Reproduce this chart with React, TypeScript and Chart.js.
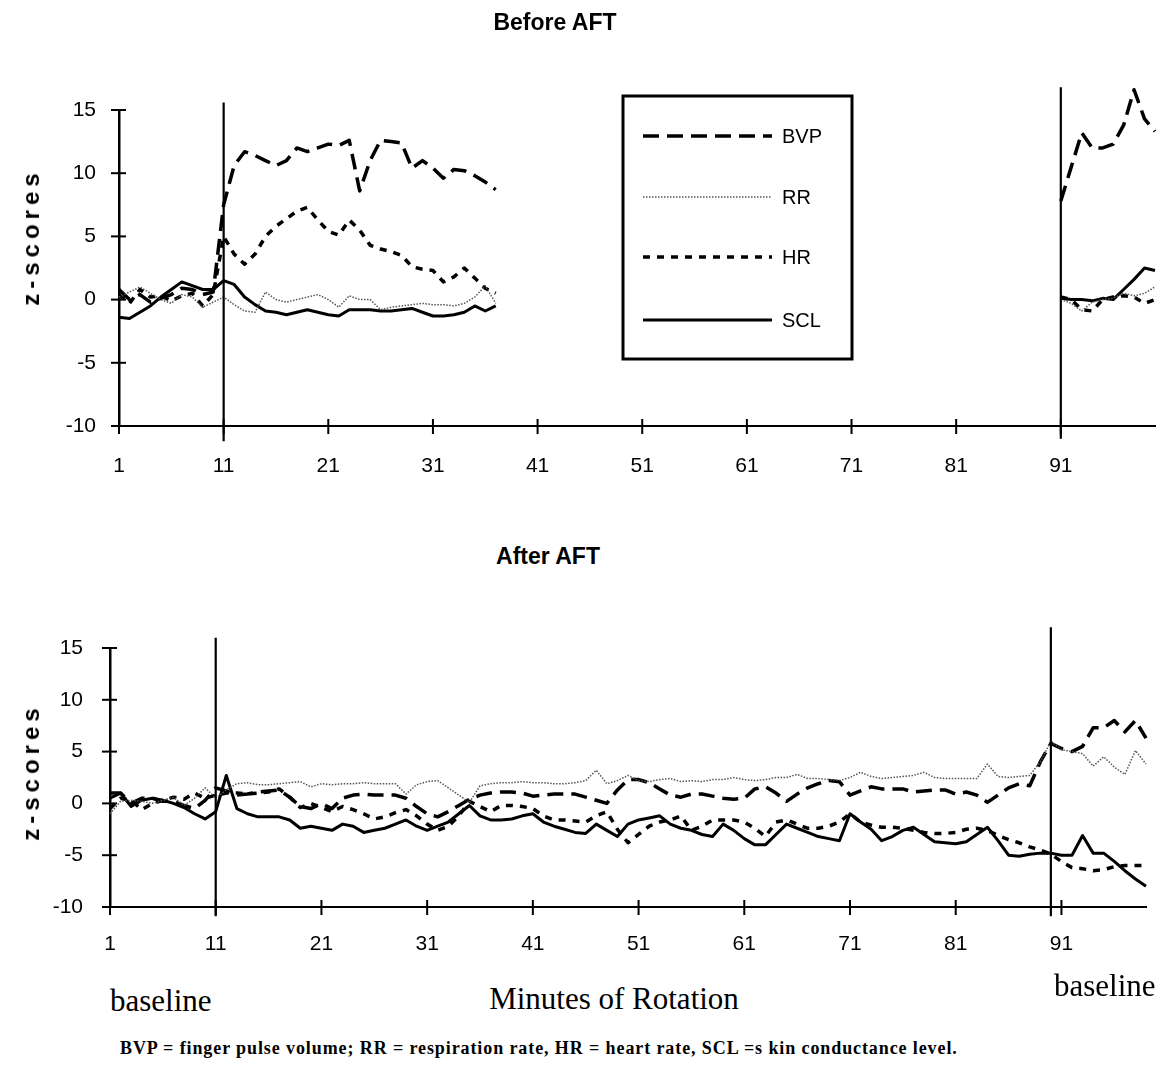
import React, { useEffect, useRef } from 'react';
import { Chart, registerables } from 'chart.js';

Chart.register(...registerables);

const X_TICKS = [1, 11, 21, 31, 41, 51, 61, 71, 81, 91];
const Y_TICKS = [-10, -5, 0, 5, 10, 15];
const SERIES_NAMES = ['BVP', 'RR', 'HR', 'SCL'];

// ---------- Before AFT (minutes 1–37 and 91–100) ----------
const BEFORE_START_A = 1;
const BEFORE_START_B = 91;
const BEFORE_BVP_A = [0.8, 0.0, 0.4, -0.2, 0.1, 0.4, 0.9, 0.8, 0.4, 0.6, 7.5, 10.6, 11.7, 11.4, 11.0, 10.6, 11.0, 12.0, 11.7, 12.0, 12.3, 12.2, 12.6, 8.6, 11.0, 12.6, 12.5, 12.4, 10.4, 11.0, 10.4, 9.6, 10.3, 10.2, 9.8, 9.3, 8.7];
const BEFORE_RR_A = [0.2, 0.6, 1.0, 0.5, 0.0, -0.3, 0.4, 0.2, -0.6, -0.2, 0.2, -0.4, -0.9, -1.0, 0.6, 0.0, -0.2, 0.0, 0.2, 0.4, 0.0, -0.6, 0.3, 0.0, 0.0, -0.8, -0.6, -0.5, -0.4, -0.3, -0.4, -0.4, -0.5, -0.3, 0.2, 1.1, -0.3];
const BEFORE_HR_A = [0.4, -0.3, 0.8, 0.2, 0.3, -0.1, 0.3, 0.5, -0.5, 0.4, 5.0, 3.6, 2.8, 3.6, 5.0, 5.8, 6.4, 7.0, 7.3, 6.3, 5.4, 5.1, 6.3, 5.5, 4.3, 4.0, 3.8, 3.5, 2.6, 2.4, 2.3, 1.4, 1.8, 2.5, 1.7, 0.9, 0.5];
const BEFORE_SCL_A = [-1.4, -1.5, -1.0, -0.5, 0.2, 0.8, 1.4, 1.1, 0.8, 0.8, 1.5, 1.2, 0.2, -0.4, -0.9, -1.0, -1.2, -1.0, -0.8, -1.0, -1.2, -1.3, -0.8, -0.8, -0.8, -0.9, -0.9, -0.8, -0.7, -1.0, -1.3, -1.3, -1.2, -1.0, -0.5, -0.9, -0.5];
const BEFORE_BVP_B = [7.8, 10.5, 13.2, 12.0, 12.0, 12.3, 13.8, 16.6, 14.3, 13.3];
const BEFORE_RR_B = [0.0, -0.3, -0.9, -0.2, 0.0, 0.1, 0.5, 0.3, 0.5, 1.0];
const BEFORE_HR_B = [0.2, 0.0, -0.8, -0.9, 0.0, 0.2, 0.3, 0.2, -0.3, 0.0];
const BEFORE_SCL_B = [0.1, 0.0, 0.0, -0.1, 0.1, 0.0, 0.8, 1.6, 2.5, 2.3];
const BEFORE_MARKERS = [11, 91];
const BEFORE_MARKER_SPAN = [[-11.2, 15.6], [-11.0, 16.8]];

// ---------- After AFT (minutes 1–99) ----------
const AFTER_BVP = [1.0, 1.0, 0.0, 0.5, 0.5, 0.2, 0.2, -0.2, -0.5, 0.3, 1.5, 1.2, 0.8, 0.9, 1.1, 1.2, 1.3, 0.6, -0.3, -0.5, 0.0, -0.5, 0.5, 0.8, 0.9, 0.8, 0.8, 0.8, 0.5, -0.3, -1.0, -1.3, -0.8, -0.2, 0.4, 0.8, 1.0, 1.1, 1.1, 1.0, 0.7, 0.8, 0.9, 0.9, 0.9, 0.6, 0.3, 0.0, 1.3, 2.3, 2.3, 2.0, 1.4, 0.8, 0.6, 0.9, 0.9, 0.7, 0.5, 0.4, 0.5, 1.4, 1.6, 1.0, 0.2, 0.9, 1.5, 1.9, 2.2, 2.1, 0.8, 1.2, 1.6, 1.4, 1.4, 1.4, 1.1, 1.2, 1.3, 1.3, 0.9, 1.1, 0.8, 0.1, 0.8, 1.5, 1.9, 1.7, 4.0, 5.8, 5.3, 5.0, 5.5, 7.3, 7.3, 8.0, 6.9, 8.0, 6.3];
const AFTER_RR = [-1.0, 0.2, 0.3, 0.2, 0.0, 0.3, 0.6, -0.2, 0.5, 1.5, 0.5, 1.3, 1.9, 2.0, 1.8, 1.8, 1.9, 2.0, 2.1, 1.6, 1.9, 1.8, 1.9, 1.9, 2.0, 1.9, 1.9, 1.9, 0.9, 1.8, 2.1, 2.2, 1.5, 0.8, 0.1, 1.7, 1.9, 2.0, 2.0, 2.1, 2.0, 2.0, 1.9, 1.9, 2.0, 2.2, 3.2, 1.9, 2.2, 2.7, 2.2, 2.1, 2.3, 2.4, 2.1, 2.2, 2.1, 2.3, 2.3, 2.5, 2.3, 2.2, 2.3, 2.5, 2.5, 2.8, 2.4, 2.4, 2.3, 2.2, 2.5, 3.0, 2.6, 2.4, 2.5, 2.6, 2.7, 3.0, 2.5, 2.4, 2.4, 2.4, 2.4, 3.8, 2.6, 2.5, 2.6, 2.7, 4.0, 6.0, 5.2, 5.0, 4.8, 3.6, 4.5, 3.5, 2.8, 5.1, 3.8];
const AFTER_HR = [-0.5, 0.5, 0.3, -0.6, 0.0, 0.3, 0.6, 0.4, 1.0, 0.5, 0.8, 1.0, 1.0, 0.9, 1.0, 1.1, 1.4, 0.6, -0.4, 0.0, -0.4, -0.8, -0.3, -0.6, -1.0, -1.5, -1.3, -0.9, -0.6, -1.2, -2.0, -2.6, -2.2, -1.2, 0.2, -0.3, -0.8, -0.2, -0.2, -0.3, -0.5, -1.2, -1.6, -1.6, -1.7, -1.8, -1.2, -0.8, -2.5, -3.8, -3.0, -2.2, -1.8, -1.6, -1.2, -2.6, -2.2, -1.6, -1.6, -1.6, -1.8, -2.4, -3.2, -1.8, -1.6, -2.0, -2.4, -2.4, -2.2, -1.8, -1.0, -1.8, -2.1, -2.3, -2.3, -2.4, -2.6, -2.8, -2.9, -2.9, -2.8, -2.5, -2.4, -2.6, -3.1, -3.5, -3.8, -4.2, -4.5, -4.9, -5.6, -6.2, -6.3, -6.5, -6.4, -6.1, -6.0, -6.0, -6.0];
const AFTER_SCL = [0.5, 1.0, -0.3, 0.3, 0.5, 0.3, 0.0, -0.4, -1.0, -1.5, -0.8, 2.7, -0.5, -1.0, -1.3, -1.3, -1.3, -1.6, -2.4, -2.2, -2.4, -2.6, -2.0, -2.2, -2.8, -2.6, -2.4, -2.0, -1.6, -2.2, -2.6, -2.2, -1.8, -1.0, -0.2, -1.2, -1.6, -1.6, -1.5, -1.2, -1.0, -1.8, -2.2, -2.5, -2.8, -2.9, -2.0, -2.6, -3.2, -2.0, -1.6, -1.4, -1.2, -2.0, -2.4, -2.6, -3.0, -3.2, -2.0, -2.6, -3.4, -4.0, -4.0, -3.0, -2.0, -2.4, -2.8, -3.2, -3.4, -3.6, -1.0, -1.8, -2.5, -3.6, -3.2, -2.6, -2.3, -3.0, -3.7, -3.8, -3.9, -3.7, -3.0, -2.3, -3.6, -5.0, -5.1, -4.9, -4.8, -4.8, -5.0, -5.0, -3.1, -4.8, -4.8, -5.6, -6.5, -7.3, -8.0];
const AFTER_MARKERS = [11, 90];
const AFTER_MARKER_SPAN = [[-10.9, 16.0], [-10.9, 17.0]];

const SANS = '"Liberation Sans", Arial, Helvetica, sans-serif';
const SERIF = '"Liberation Serif", "Times New Roman", serif';

const STYLES: Record<string, any> = {
  BVP: { borderColor: '#000', borderWidth: 3.5, borderDash: [16, 8] },
  RR: { borderColor: '#555', borderWidth: 1.5, borderDash: [1.5, 1.5] },
  HR: { borderColor: '#000', borderWidth: 3.5, borderDash: [7, 7] },
  SCL: { borderColor: '#000', borderWidth: 3, borderDash: [] },
};

type Pt = { x: number; y: number | null };

function toPoints(start: number, values: number[]): Pt[] {
  return values.map((v, i) => ({ x: start + i, y: v }));
}

function seriesDataset(name: string, data: Pt[]) {
  return {
    label: name,
    data,
    ...STYLES[name],
    pointRadius: 0,
    tension: 0,
    fill: false,
    spanGaps: false,
    clip: false as any,
    borderJoinStyle: 'round',
  };
}

function markerDatasets(markers: number[], spans: number[][]) {
  return markers.map((m, i) => ({
    label: 'marker' + m,
    data: [
      { x: m, y: spans[i][0] },
      { x: m, y: spans[i][1] },
    ],
    borderColor: '#000',
    borderWidth: 2.2,
    pointRadius: 0,
    clip: false as any,
  }));
}

const crossTicks = {
  id: 'crossTicks',
  afterDraw(chart: any) {
    const { ctx, chartArea, scales } = chart;
    ctx.save();
    ctx.strokeStyle = '#000';
    ctx.lineWidth = 2;
    ctx.setLineDash([]);
    scales.x.ticks.forEach((t: any) => {
      const px = scales.x.getPixelForValue(t.value);
      ctx.beginPath();
      ctx.moveTo(px, chartArea.bottom - 7);
      ctx.lineTo(px, chartArea.bottom + 8);
      ctx.stroke();
    });
    scales.y.ticks.forEach((t: any) => {
      const py = scales.y.getPixelForValue(t.value);
      ctx.beginPath();
      ctx.moveTo(chartArea.left - 8, py);
      ctx.lineTo(chartArea.left + 7, py);
      ctx.stroke();
    });
    ctx.restore();
  },
};

const boxLegend = {
  id: 'boxLegend',
  afterDraw(chart: any, _args: any, opts: any) {
    if (!opts || !opts.show) return;
    const { ctx } = chart;
    const x0 = 623, y0 = 96, w = 229, h = 263;
    ctx.save();
    ctx.strokeStyle = '#000';
    ctx.lineWidth = 3;
    ctx.setLineDash([]);
    ctx.strokeRect(x0, y0, w, h);
    const rows = [136, 197, 257, 320];
    SERIES_NAMES.forEach((name, i) => {
      const st = STYLES[name];
      const y = rows[i];
      ctx.beginPath();
      ctx.strokeStyle = st.borderColor;
      ctx.lineWidth = st.borderWidth;
      ctx.setLineDash(st.borderDash);
      ctx.moveTo(643, y);
      ctx.lineTo(772, y);
      ctx.stroke();
      ctx.setLineDash([]);
      ctx.fillStyle = '#000';
      ctx.font = '20px ' + SANS;
      ctx.textBaseline = 'middle';
      ctx.textAlign = 'left';
      ctx.fillText(name, 782, y + 1);
    });
    ctx.restore();
  },
};

function makeOptions(c: { xMax: number; padTop: number; padRight: number; yWidth: number; xHeight: number; xPad: number; yPad: number; legend: boolean }) {
  const tickFont = { family: SANS, size: 21 };
  return {
    responsive: false,
    maintainAspectRatio: false,
    animation: false,
    events: [],
    layout: { padding: { left: 0, right: c.padRight, top: c.padTop, bottom: 0 } },
    plugins: {
      legend: { display: false },
      title: { display: false },
      tooltip: { enabled: false },
      boxLegend: { show: c.legend },
    },
    scales: {
      x: {
        type: 'linear',
        min: 1,
        max: c.xMax,
        afterBuildTicks: (s: any) => {
          s.ticks = X_TICKS.map((v) => ({ value: v }));
        },
        afterFit: (s: any) => {
          s.height = c.xHeight;
        },
        grid: { display: false, drawTicks: false },
        border: { display: true, color: '#000', width: 2 },
        ticks: { padding: c.xPad, font: tickFont, color: '#000', autoSkip: false, maxRotation: 0, callback: (v: any) => String(v) },
      },
      y: {
        type: 'linear',
        min: -10,
        max: 15,
        afterBuildTicks: (s: any) => {
          s.ticks = Y_TICKS.map((v) => ({ value: v }));
        },
        afterFit: (s: any) => {
          s.width = c.yWidth;
        },
        grid: { display: false, drawTicks: false },
        border: { display: true, color: '#000', width: 2.5 },
        ticks: { padding: c.yPad, font: tickFont, color: '#000', callback: (v: any) => String(v) },
      },
    },
  };
}

function beforeDatasets() {
  const gap: Pt = { x: 64, y: null };
  const join = (a: number[], b: number[]) => [...toPoints(BEFORE_START_A, a), gap, ...toPoints(BEFORE_START_B, b)];
  return [
    ...markerDatasets(BEFORE_MARKERS, BEFORE_MARKER_SPAN),
    seriesDataset('RR', join(BEFORE_RR_A, BEFORE_RR_B)),
    seriesDataset('HR', join(BEFORE_HR_A, BEFORE_HR_B)),
    seriesDataset('SCL', join(BEFORE_SCL_A, BEFORE_SCL_B)),
    seriesDataset('BVP', join(BEFORE_BVP_A, BEFORE_BVP_B)),
  ];
}

function afterDatasets() {
  return [
    ...markerDatasets(AFTER_MARKERS, AFTER_MARKER_SPAN),
    seriesDataset('RR', toPoints(1, AFTER_RR)),
    seriesDataset('HR', toPoints(1, AFTER_HR)),
    seriesDataset('SCL', toPoints(1, AFTER_SCL)),
    seriesDataset('BVP', toPoints(1, AFTER_BVP)),
  ];
}

function Text(props: { x: number; y: number; children: React.ReactNode; style?: React.CSSProperties; align?: 'left' | 'center' }) {
  const { x, y, children, style, align = 'center' } = props;
  return (
    <div
      style={{
        position: 'absolute',
        left: x,
        top: y,
        transform: align === 'center' ? 'translate(-50%, -50%)' : 'translate(0, -50%)',
        whiteSpace: 'nowrap',
        lineHeight: 1,
        color: '#000',
        ...style,
      }}
    >
      {children}
    </div>
  );
}

export default function App() {
  const topRef = useRef<HTMLCanvasElement>(null);
  const botRef = useRef<HTMLCanvasElement>(null);

  useEffect(() => {
    document.body.style.margin = '0';
    document.body.style.background = '#fff';
    const c1 = new Chart(topRef.current as HTMLCanvasElement, {
      type: 'line',
      data: { datasets: beforeDatasets() as any },
      options: makeOptions({ xMax: 100, padTop: 110, padRight: 17, yWidth: 119, xHeight: 64, xPad: 28, yPad: 23, legend: true }) as any,
      plugins: [crossTicks, boxLegend],
    });
    const c2 = new Chart(botRef.current as HTMLCanvasElement, {
      type: 'line',
      data: { datasets: afterDatasets() as any },
      options: makeOptions({ xMax: 99, padTop: 78, padRight: 26, yWidth: 110, xHeight: 63, xPad: 25, yPad: 27, legend: false }) as any,
      plugins: [crossTicks, boxLegend],
    });
    return () => {
      c1.destroy();
      c2.destroy();
    };
  }, []);

  const yTitle: React.CSSProperties = {
    fontFamily: SANS,
    fontWeight: 'bold',
    fontSize: 24,
    letterSpacing: 5,
    transform: 'translate(-50%, -50%) rotate(-90deg)',
  };

  return (
    <div style={{ position: 'relative', width: 1172, height: 1074, background: '#fff', overflow: 'hidden' }}>
      <canvas ref={topRef} width={1172} height={490} style={{ position: 'absolute', left: 0, top: 0 }} />
      <canvas ref={botRef} width={1172} height={400} style={{ position: 'absolute', left: 0, top: 570 }} />
      <Text x={555} y={22} style={{ fontFamily: SANS, fontWeight: 'bold', fontSize: 23 }}>Before AFT</Text>
      <Text x={548} y={556} style={{ fontFamily: SANS, fontWeight: 'bold', fontSize: 23 }}>After AFT</Text>
      <Text x={31} y={237} style={yTitle}>z-scores</Text>
      <Text x={31} y={772} style={yTitle}>z-scores</Text>
      <Text x={110} y={1000} align="left" style={{ fontFamily: SERIF, fontSize: 31 }}>baseline</Text>
      <Text x={614} y={998} style={{ fontFamily: SERIF, fontSize: 31 }}>Minutes of Rotation</Text>
      <Text x={1054} y={985} align="left" style={{ fontFamily: SERIF, fontSize: 31 }}>baseline</Text>
      <Text x={120} y={1048} align="left" style={{ fontFamily: SERIF, fontWeight: 'bold', fontSize: 18, letterSpacing: 0.9 }}>
        BVP = finger pulse volume; RR = respiration rate, HR = heart rate, SCL =s kin conductance level.
      </Text>
    </div>
  );
}
